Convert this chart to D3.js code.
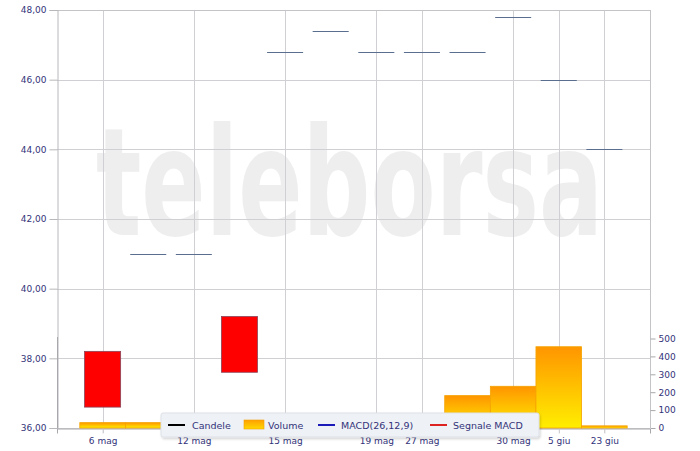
<!DOCTYPE html>
<html><head><meta charset="utf-8">
<script src="https://cdn.jsdelivr.net/npm/d3@7"></script>
<style>
html,body{margin:0;padding:0;background:#fff;}
svg{display:block;}
text{font-family:"DejaVu Sans",Verdana,sans-serif;}
</style></head>
<body>
<svg id="chart" width="700" height="451"></svg>
<script>
// ---- data ----
const categories = ["6 mag","7 mag","12 mag","13 mag","15 mag","16 mag","19 mag","27 mag","28 mag","30 mag","5 giu","23 giu"];
const tickLabels = ["6 mag","12 mag","15 mag","19 mag","27 mag","30 mag","5 giu","23 giu"];
const openPrices  = [38.2, 41.0, 41.0, 39.2, 46.8, 47.4, 46.8, 46.8, 46.8, 47.8, 46.0, 44.0];
const closePrices = [36.6, 41.0, 41.0, 37.6, 46.8, 47.4, 46.8, 46.8, 46.8, 47.8, 46.0, 44.0];
const volumes     = [30, 30, 20, 20, 20, 20, 20, 20, 181, 233, 454, 12];
const priceTicks  = [36, 38, 40, 42, 44, 46, 48];
const volumeTicks = [0, 100, 200, 300, 400, 500];
const legendItems = ["Candele", "Volume", "MACD(26,12,9)", "Segnale MACD"];

const svg = d3.select("#chart");
const L = 57, R = 650, T = 10, B = 428;
const textColor = "#33337a";
const gridColor = "#cfcfd4";

const x = d3.scalePoint().domain(categories).range([L, R]).padding(1);
const step = x.step();
const y = d3.scaleLinear().domain([36, 48]).range([B, T]);
const yv = d3.scaleLinear().domain([0, 500]).range([B, 338.5]);

const defs = svg.append("defs");
const grad = defs.append("linearGradient").attr("id", "volGrad")
  .attr("x1", 0).attr("y1", 0).attr("x2", 0).attr("y2", 1);
grad.append("stop").attr("offset", "0%").attr("stop-color", "#ff9500");
grad.append("stop").attr("offset", "100%").attr("stop-color", "#ffee00");
const lgGrad = defs.append("linearGradient").attr("id", "legGrad")
  .attr("x1", 0).attr("y1", 0).attr("x2", 0).attr("y2", 1);
lgGrad.append("stop").attr("offset", "0%").attr("stop-color", "#ffa000");
lgGrad.append("stop").attr("offset", "100%").attr("stop-color", "#ffd800");
const shadow = defs.append("filter").attr("id", "shadow").attr("x", "-10%").attr("y", "-30%").attr("width", "120%").attr("height", "170%");
shadow.append("feDropShadow").attr("dx", 1).attr("dy", 1.5).attr("stdDeviation", 1.2).attr("flood-color", "#000").attr("flood-opacity", 0.18);

// watermark (scaled horizontally to fit the reference width)
const wm = svg.append("text")
  .attr("x", 0).attr("y", 0)
  .attr("font-family", "'Liberation Sans', Arial, sans-serif")
  .attr("font-weight", "bold").attr("font-size", 150)
  .attr("fill", "#eeeeee")
  .text("teleborsa");
const wmW = wm.node().getComputedTextLength() || 600;
wm.attr("transform", `translate(96,235) scale(${507 / wmW},1)`);

// horizontal grid
svg.append("g").selectAll("line").data(priceTicks).join("line")
  .attr("x1", L).attr("x2", R)
  .attr("y1", d => Math.round(y(d)) + 0.5).attr("y2", d => Math.round(y(d)) + 0.5)
  .attr("stroke", gridColor);
// vertical grid
svg.append("g").selectAll("line").data(tickLabels).join("line")
  .attr("x1", d => Math.round(x(d)) + 0.5).attr("x2", d => Math.round(x(d)) + 0.5)
  .attr("y1", T).attr("y2", B + 5)
  .attr("stroke", gridColor);
// border
svg.append("line").attr("x1", R + 0.5).attr("x2", R + 0.5).attr("y1", T).attr("y2", B).attr("stroke", "#c4c4c8");
svg.append("line").attr("x1", L).attr("x2", R).attr("y1", T + 0.5).attr("y2", T + 0.5).attr("stroke", "#c4c4c8");

// left axis
const yAxis = d3.axisLeft(y).tickValues(priceTicks).tickSize(8).tickPadding(3)
  .tickFormat(d => d3.format(".2f")(d).replace(".", ","));
const gy = svg.append("g").attr("transform", `translate(${L + 0.5},0)`).call(yAxis);
gy.select(".domain").attr("stroke", "#b8b8bc");
gy.selectAll(".tick line").attr("stroke", "#b8b8bc");
gy.selectAll("text").attr("fill", textColor).attr("font-size", 9).attr("font-family", "'DejaVu Sans', Verdana, sans-serif");
svg.append("line").attr("x1", L + 0.5).attr("x2", L + 0.5).attr("y1", 337).attr("y2", B).attr("stroke", "#a8a8ac");

// bottom axis
const xAxis = d3.axisBottom(x).tickValues(tickLabels).tickSize(5).tickPadding(4);
const gx = svg.append("g").attr("transform", `translate(0,${B + 0.5})`).call(xAxis);
gx.select(".domain").attr("stroke", "#a8a8ac");
gx.selectAll(".tick line").attr("stroke", gridColor);
gx.selectAll("text").attr("fill", textColor).attr("font-size", 9).attr("font-family", "'DejaVu Sans', Verdana, sans-serif");

// right volume axis
const yvAxis = d3.axisRight(yv).tickValues(volumeTicks).tickSize(5).tickPadding(3).tickFormat(d3.format("d"));
const gv = svg.append("g").attr("transform", `translate(${R + 0.5},0)`).call(yvAxis);
gv.select(".domain").remove();
gv.selectAll(".tick line").attr("stroke", "#a8a8ac");
gv.selectAll("text").attr("fill", textColor).attr("font-size", 9).attr("font-family", "'DejaVu Sans', Verdana, sans-serif");

// volume bars
svg.append("g").selectAll("rect").data(categories).join("rect")
  .attr("x", d => x(d) - step / 2)
  .attr("width", step)
  .attr("y", (d, i) => yv(volumes[i]))
  .attr("height", (d, i) => B - yv(volumes[i]))
  .attr("fill", "url(#volGrad)")
  .attr("stroke", "#f5a300").attr("stroke-width", 0.8);

// candles
const cw = step * 0.79;
const cg = svg.append("g");
categories.forEach((c, i) => {
  const o = openPrices[i], cl = closePrices[i];
  const hi = Math.max(o, cl), lo = Math.min(o, cl);
  const cx = x(c);
  if (Math.abs(o - cl) < 1e-9) {
    cg.append("line").attr("x1", cx - cw / 2).attr("x2", cx + cw / 2)
      .attr("y1", Math.round(y(o)) + 0.5).attr("y2", Math.round(y(o)) + 0.5)
      .attr("stroke", "#5a6f8f").attr("stroke-width", 1.2);
  } else {
    cg.append("rect").attr("x", cx - cw / 2).attr("width", cw)
      .attr("y", y(hi)).attr("height", y(lo) - y(hi))
      .attr("fill", o > cl ? "#ff0000" : "#ffffff")
      .attr("stroke", "#8a4458").attr("stroke-width", 0.8);
  }
});

// legend
const lg = svg.append("g");
lg.append("rect").attr("x", 161).attr("y", 413).attr("width", 378).attr("height", 24)
  .attr("rx", 2).attr("fill", "#eef1f5").attr("stroke", "#dde1e8").attr("filter", "url(#shadow)");
const ly = 425;
const fontL = 9.5;
// Candele
lg.append("line").attr("x1", 168).attr("x2", 185).attr("y1", ly).attr("y2", ly).attr("stroke", "#000").attr("stroke-width", 2);
lg.append("text").attr("x", 192).attr("y", ly + 3.5).attr("font-size", fontL).attr("fill", textColor).text(legendItems[0]);
// Volume
lg.append("rect").attr("x", 244).attr("y", 420).attr("width", 20).attr("height", 9).attr("fill", "url(#legGrad)").attr("stroke", "#f0a000").attr("stroke-width", 0.6);
lg.append("text").attr("x", 268).attr("y", ly + 3.5).attr("font-size", fontL).attr("fill", textColor).text(legendItems[1]);
// MACD
lg.append("line").attr("x1", 318).attr("x2", 335).attr("y1", ly).attr("y2", ly).attr("stroke", "#1a1ab8").attr("stroke-width", 2);
lg.append("text").attr("x", 341).attr("y", ly + 3.5).attr("font-size", fontL).attr("fill", textColor).text(legendItems[2]);
// Segnale
lg.append("line").attr("x1", 430).attr("x2", 447).attr("y1", ly).attr("y2", ly).attr("stroke", "#dd2222").attr("stroke-width", 2);
lg.append("text").attr("x", 453).attr("y", ly + 3.5).attr("font-size", fontL).attr("fill", textColor).text(legendItems[3]);
</script>
</body></html>
